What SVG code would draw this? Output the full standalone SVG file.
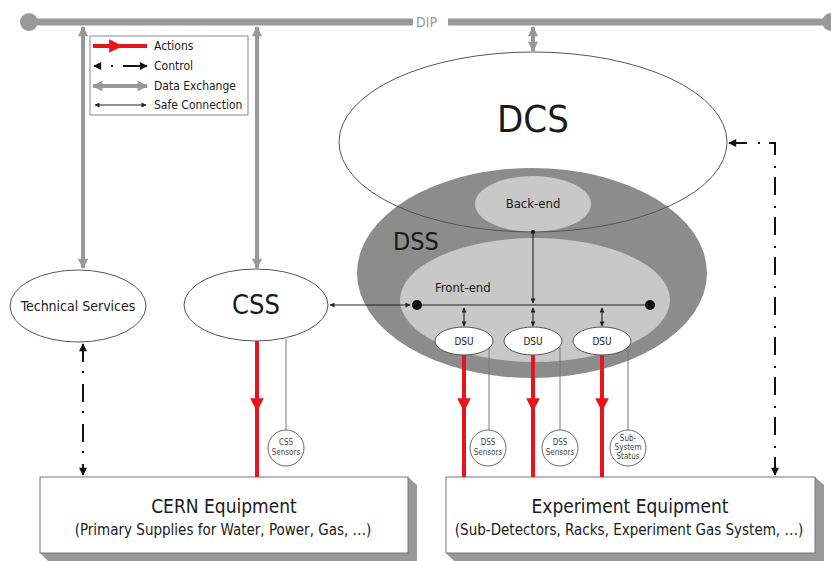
<svg xmlns="http://www.w3.org/2000/svg" width="831" height="561" viewBox="0 0 831 561">
<style>
text{font-family:"DejaVu Sans Condensed","DejaVu Sans",sans-serif;font-stretch:condensed;fill:#1a1a1a}
.data{stroke:#999;stroke-width:4;fill:none}
.act{stroke:#e8141b;stroke-width:4;fill:none}
.safe{stroke:#222;stroke-width:1.1;fill:none}
.ctrl{stroke:#111;stroke-width:2;fill:none;stroke-dasharray:18 9 2 11}
.thin{stroke:#777;stroke-width:1;fill:none}
.node{fill:#fff;stroke:#555;stroke-width:1}
.sens{fill:#fff;stroke:#666;stroke-width:1}
.small{font-size:8px;text-anchor:middle;fill:#444}
</style>
<defs>
<marker id="mData" viewBox="0 0 10 10" refX="9" refY="5" markerWidth="3" markerHeight="2.6" orient="auto-start-reverse" markerUnits="strokeWidth"><path d="M0,0 L10,5 L0,10 Z" fill="#999"/></marker>
<marker id="mAct" viewBox="0 0 10 10" refX="5" refY="5" markerWidth="3.4" markerHeight="3.4" orient="auto" markerUnits="strokeWidth"><path d="M0,0 L10,5 L0,10 Z" fill="#e8141b"/></marker>
<marker id="mSafe" viewBox="0 0 10 10" refX="9" refY="5" markerWidth="6" markerHeight="5" orient="auto-start-reverse" markerUnits="userSpaceOnUse"><path d="M0,0 L10,5 L0,10 Z" fill="#222"/></marker>
<marker id="mCtrl" viewBox="0 0 10 10" refX="9" refY="5" markerWidth="5" markerHeight="4" orient="auto-start-reverse" markerUnits="strokeWidth"><path d="M0,0 L10,5 L0,10 Z" fill="#111"/></marker>
</defs>

<g id="dip">
<line x1="29" y1="22" x2="413" y2="22" stroke="#999" stroke-width="7"/>
<line x1="448" y1="22" x2="831" y2="22" stroke="#999" stroke-width="7"/>
<circle cx="29" cy="22" r="9" fill="#999"/>
<circle cx="831" cy="22" r="9" fill="#999"/>
<text x="416" y="27" font-size="14" style="fill:#999">DIP</text>
</g>

<g id="legend">
<rect x="90" y="36" width="158" height="79" fill="#fff" stroke="#888" stroke-width="1"/>
<polyline class="act" points="93,46 116,46 147,46" marker-mid="url(#mAct)"/>
<text x="154" y="50" font-size="12">Actions</text>
<line x1="94" y1="66" x2="100" y2="66" stroke="#111" stroke-width="2" marker-start="url(#mCtrl)"/>
<line x1="111" y1="66" x2="113" y2="66" stroke="#111" stroke-width="2"/>
<line x1="123" y1="66" x2="147" y2="66" stroke="#111" stroke-width="2" marker-end="url(#mCtrl)"/>
<text x="154" y="70" font-size="12">Control</text>
<line class="data" x1="93" y1="86" x2="147" y2="86" marker-start="url(#mData)" marker-end="url(#mData)"/>
<text x="154" y="90" font-size="12">Data Exchange</text>
<line class="safe" x1="95" y1="105" x2="146" y2="105" marker-start="url(#mSafe)" marker-end="url(#mSafe)"/>
<text x="154" y="109" font-size="12">Safe Connection</text>
</g>

<g id="dcs-fill">
<ellipse cx="533" cy="142" rx="194" ry="90" fill="#fff"/>
</g>

<g id="dss">
<ellipse cx="532" cy="273" rx="175" ry="105" fill="#8c8c8c"/>
<ellipse cx="535" cy="300" rx="135" ry="62" fill="#c8c8c8"/>
<text x="393" y="250" font-size="25">DSS</text>
<text x="435" y="292" font-size="13">Front-end</text>
</g>

<g id="backend">
<ellipse cx="533" cy="204" rx="58" ry="28" fill="#c8c8c8"/>
<text x="533" y="208" font-size="13" text-anchor="middle">Back-end</text>
</g>

<g id="dcs">
<ellipse cx="533" cy="142" rx="194" ry="90" fill="none" stroke="#555" stroke-width="1"/>
<text x="533" y="132" font-size="38" text-anchor="middle">DCS</text>
</g>

<g id="technical-services">
<ellipse class="node" cx="78" cy="306" rx="68" ry="36"/>
<text x="78" y="311" font-size="14" text-anchor="middle">Technical Services</text>
</g>

<g id="css">
<ellipse class="node" cx="256" cy="305" rx="72" ry="36"/>
<text x="256" y="314" font-size="27" text-anchor="middle">CSS</text>
</g>

<g id="dsu1"><ellipse class="node" cx="464" cy="341" rx="29" ry="14"/><text x="464" y="345" font-size="10" text-anchor="middle">DSU</text></g>
<g id="dsu2"><ellipse class="node" cx="533" cy="341" rx="29" ry="14"/><text x="533" y="345" font-size="10" text-anchor="middle">DSU</text></g>
<g id="dsu3"><ellipse class="node" cx="602" cy="341" rx="29" ry="14"/><text x="602" y="345" font-size="10" text-anchor="middle">DSU</text></g>

<g id="css-sensors"><circle class="sens" cx="286" cy="448" r="18"/><text class="small" x="286" y="445">CSS</text><text class="small" x="286" y="455">Sensors</text></g>
<g id="dss-sensors-1"><circle class="sens" cx="488" cy="448" r="18"/><text class="small" x="488" y="445">DSS</text><text class="small" x="488" y="455">Sensors</text></g>
<g id="dss-sensors-2"><circle class="sens" cx="560" cy="448" r="18"/><text class="small" x="560" y="445">DSS</text><text class="small" x="560" y="455">Sensors</text></g>
<g id="subsystem-status"><circle class="sens" cx="628" cy="448" r="18"/><text class="small" x="628" y="441">Sub-</text><text class="small" x="628" y="450">System</text><text class="small" x="628" y="459">Status</text></g>

<g id="cern-equipment">
<polygon points="408,477 417,485 417,561 48,561 40,553 408,553" fill="#999"/>
<rect x="40" y="477" width="368" height="76" fill="#fff" stroke="#777" stroke-width="1"/>
<text x="224" y="513" font-size="19" text-anchor="middle">CERN Equipment</text>
<text x="223" y="535" font-size="15" text-anchor="middle">(Primary Supplies for Water, Power, Gas, …)</text>
</g>

<g id="experiment-equipment">
<polygon points="815,477 824,485 824,561 454,561 446,553 815,553" fill="#999"/>
<rect x="446" y="477" width="369" height="76" fill="#fff" stroke="#777" stroke-width="1"/>
<text x="630" y="513" font-size="19" text-anchor="middle">Experiment Equipment</text>
<text x="629" y="535" font-size="15" text-anchor="middle">(Sub-Detectors, Racks, Experiment Gas System, …)</text>
</g>

<g id="connectors">
<line class="data" x1="83" y1="27" x2="83" y2="268" marker-start="url(#mData)" marker-end="url(#mData)"/>
<line class="data" x1="257" y1="27" x2="257" y2="268" marker-start="url(#mData)" marker-end="url(#mData)"/>
<line class="data" x1="533" y1="27" x2="533" y2="51" marker-start="url(#mData)" marker-end="url(#mData)"/>

<line class="safe" x1="330" y1="305" x2="410" y2="305" marker-start="url(#mSafe)" marker-end="url(#mSafe)"/>
<line x1="417" y1="305" x2="650" y2="305" stroke="#222" stroke-width="1.2"/>
<circle cx="417" cy="305" r="5" fill="#111"/>
<circle cx="650" cy="305" r="5" fill="#111"/>
<circle cx="533" cy="232" r="2" fill="#111"/>
<line class="safe" x1="533" y1="232" x2="533" y2="303" marker-end="url(#mSafe)"/>
<line class="safe" x1="464" y1="308" x2="464" y2="326" marker-start="url(#mSafe)" marker-end="url(#mSafe)"/>
<line class="safe" x1="533" y1="308" x2="533" y2="326" marker-start="url(#mSafe)" marker-end="url(#mSafe)"/>
<line class="safe" x1="602" y1="308" x2="602" y2="326" marker-start="url(#mSafe)" marker-end="url(#mSafe)"/>

<polyline class="act" points="257,341 257,405 257,477" marker-mid="url(#mAct)"/>
<polyline class="act" points="464,355 464,405 464,477" marker-mid="url(#mAct)"/>
<polyline class="act" points="533,355 533,405 533,477" marker-mid="url(#mAct)"/>
<polyline class="act" points="602,355 602,405 602,477" marker-mid="url(#mAct)"/>

<line class="thin" x1="286" y1="339" x2="286" y2="430"/>
<line class="thin" x1="489" y1="347" x2="489" y2="430"/>
<line class="thin" x1="560" y1="347" x2="560" y2="430"/>
<line class="thin" x1="628" y1="347" x2="628" y2="430"/>

<line class="ctrl" x1="83" y1="344" x2="83" y2="475" marker-start="url(#mCtrl)" marker-end="url(#mCtrl)"/>
<path class="ctrl" d="M775,475 L775,143 L729,143" marker-start="url(#mCtrl)" marker-end="url(#mCtrl)"/>
</g>
</svg>
